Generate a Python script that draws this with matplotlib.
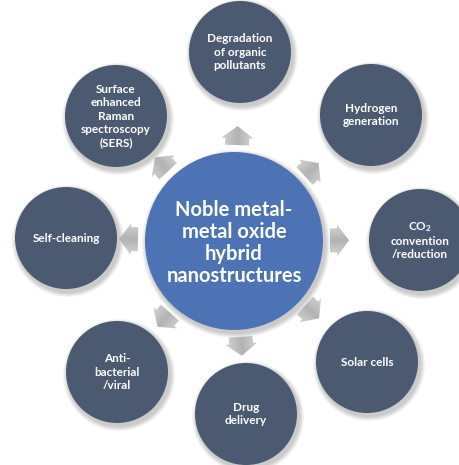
import numpy as np
import matplotlib.pyplot as plt
from matplotlib.patches import Circle, Polygon

plt.rcParams['font.family'] = ['Lato', 'DejaVu Sans']
plt.rcParams['mathtext.fontset'] = 'custom'
plt.rcParams['mathtext.rm'] = 'Lato:bold'
plt.rcParams['mathtext.bf'] = 'Lato:bold'
plt.rcParams['mathtext.it'] = 'Lato:bold'

# diagram content
center_label = "Noble metal-\nmetal oxide\nhybrid\nnanostructures"
node_labels = [
    "Degradation\nof organic\npollutants",
    "Hydrogen\ngeneration",
    "CO$_2$\nconvention\n/reduction",
    "Solar cells",
    "Drug\ndelivery",
    "Anti-\nbacterial\n/viral",
    "Self-cleaning",
    "Surface\nenhanced\nRaman\nspectroscopy\n(SERS)",
]

# layout (pixel space of the 459x465 picture)
W, H = 459, 465
cx, cy, r_center = 234, 241, 89
node_xy = [(240, 52), (371, 115), (420, 240), (367, 362),
           (246, 414), (117, 372), (66, 238), (116, 116)]
node_r = 51
arrow_base = 96

fig = plt.figure(figsize=(W / 100, H / 100), dpi=100)
ax = fig.add_axes([0, 0, 1, 1])
ax.set_xlim(0, W)
ax.set_ylim(H, 0)
ax.set_aspect('equal')
ax.axis('off')


def soft_shadow(x, y, r, dx=2, dy=3):
    for k in range(6):
        ax.add_patch(Circle((x + dx, y + dy), r + 1 + k * 0.8, color='#000000',
                            alpha=0.035, lw=0, zorder=1))


def draw_arrow(ang):
    # block arrow pointing away from the centre
    ux, uy = np.cos(ang), -np.sin(ang)
    px, py = -uy, ux
    bx, by = cx + ux * arrow_base, cy + uy * arrow_base
    shaft, head, neck, length = 12, 16, 7, 19
    pts = [
        (bx + px * shaft, by + py * shaft),
        (bx + ux * neck + px * shaft, by + uy * neck + py * shaft),
        (bx + ux * neck + px * head, by + uy * neck + py * head),
        (bx + ux * length, by + uy * length),
        (bx + ux * neck - px * head, by + uy * neck - py * head),
        (bx + ux * neck - px * shaft, by + uy * neck - py * shaft),
        (bx - px * shaft, by - py * shaft),
    ]
    poly = Polygon(pts, closed=True, facecolor='none', edgecolor='none', zorder=3)
    ax.add_patch(poly)
    # grey gradient across the arrow, darker in the middle
    g = np.linspace(-1, 1, 64)
    gx, gy = np.meshgrid(g, -g)
    t = np.clip(np.abs(gx * px - gy * py) * 1.3, 0, 1)
    shade = 0.70 + 0.15 * t
    img = ax.imshow(shade, cmap='gray', vmin=0, vmax=1,
                    extent=(bx - 25, bx + 25, by + 25, by - 25), zorder=3,
                    interpolation='bilinear')
    img.set_clip_path(poly)


# centre circle
soft_shadow(cx, cy, r_center)
ax.add_patch(Circle((cx, cy), r_center, facecolor='#4e73b4', edgecolor='none', zorder=2))
ax.text(cx, cy + 2, center_label, ha='center', va='center', color='white',
        fontsize=14.5, fontweight='bold', linespacing=1.12, zorder=4)

for (x, y), label in zip(node_xy, node_labels):
    soft_shadow(x, y, node_r)
    ax.add_patch(Circle((x, y), node_r, facecolor='#4b5a70', edgecolor='none', zorder=2))
    ax.text(x, y, label, ha='center', va='center', color='white',
            fontsize=8.5, fontweight='bold', linespacing=1.25, zorder=4)
    ang = np.arctan2(-(y - cy), x - cx)
    draw_arrow(ang)

ax.set_xlim(0, W)
ax.set_ylim(H, 0)
fig.savefig("out.png", dpi=100)
